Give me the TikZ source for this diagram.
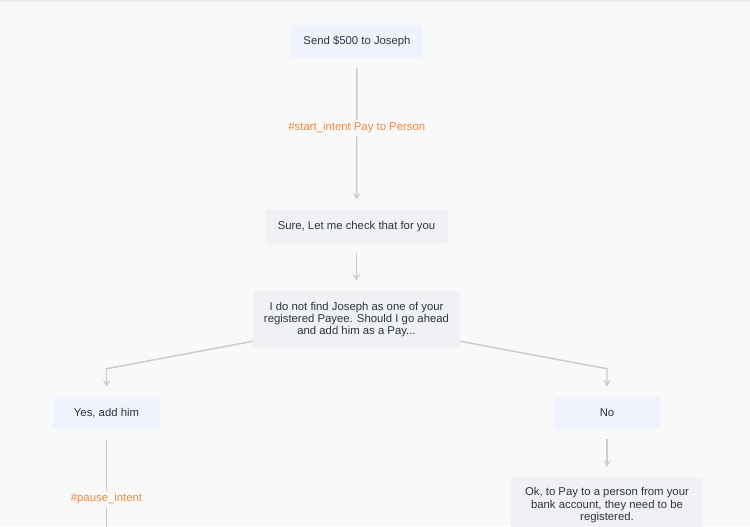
\documentclass[tikz,border=0pt]{standalone}
\usepackage{fontspec}
\setmainfont{Liberation Sans}
\usetikzlibrary{arrows.meta}

\definecolor{canvas}{HTML}{F9F9FA}
\definecolor{topline}{HTML}{ECECEE}
\definecolor{userfill}{HTML}{EEF3FD}
\definecolor{botfill}{HTML}{F0F1F4}
\definecolor{ink}{HTML}{2E343D}
\definecolor{linegray}{HTML}{C9CCD1}
\definecolor{intentorange}{HTML}{F0873A}

\tikzset{
	msg/.style={rounded corners=2.5pt, text=ink, align=center, inner sep=0pt,
		font=\fontsize{8.5}{9.3}\selectfont},
	usermsg/.style={msg, fill=userfill},
	botmsg/.style={msg, fill=botfill},
	wire/.style={draw=linegray, line width=1.1pt},
	link/.style={wire, -{Stealth[length=5pt,width=5.5pt]}, shorten <=7.5pt, shorten >=7.5pt},
	intent/.style={fill=canvas, text=intentorange, inner sep=2pt,
		font=\fontsize{8.5}{9.3}\selectfont}
}

\begin{document}
\begin{tikzpicture}[x=0.75pt, y=-0.75pt]
	%canvas
	\fill[canvas] (0,0) rectangle (750,526);
	\fill[topline] (0,0) rectangle (750,2);
	\useasboundingbox (0,0) rectangle (750,526);
	\clip (0,0) rectangle (750,526);
	%messages
	\node[usermsg, minimum width=99pt, minimum height=24.75pt] (send) at (357,41.5) {Send \$500 to Joseph};
	\node[botmsg, minimum width=137.25pt, minimum height=24.75pt] (sure) at (356.5,226.5) {Sure, Let me check that for you};
	\node[botmsg, minimum width=155.25pt, minimum height=42.75pt] (ask) at (356.5,319.5)
	{I do not find Joseph as one of your\\registered Payee. Should I go ahead\\and add him as a Pay...};
	\node[usermsg, minimum width=80.25pt, minimum height=24pt] (yes) at (106.5,413) {Yes, add him};
	\node[usermsg, minimum width=79.5pt, minimum height=24pt] (no) at (607,413) {No};
	\node[botmsg, minimum width=144pt, minimum height=42pt, anchor=north] (ok) at (607,477)
	{Ok, to Pay to a person from your\\bank account, they need to be\\registered.};
	\coordinate (yesend) at (106.5,545);
	%links
	\draw[link] (send) -- node[intent, pos=0.46] {\#start\_intent Pay to Person} (sure);
	\draw[link] (sure) -- (ask);
	\draw[link, shorten <=0pt] ([yshift=5.25pt]ask.south west) -- ([yshift=21pt]yes.north) -- (yes.north);
	\draw[link, shorten <=0pt] ([yshift=5.25pt]ask.south east) -- ([yshift=21pt]no.north) -- (no.north);
	\draw[wire, shorten <=8.25pt] (yes) -- node[intent, pos=0.6] {\#pause\_intent} (yesend);
	\draw[link] (no) -- (ok);
\end{tikzpicture}
\end{document}
